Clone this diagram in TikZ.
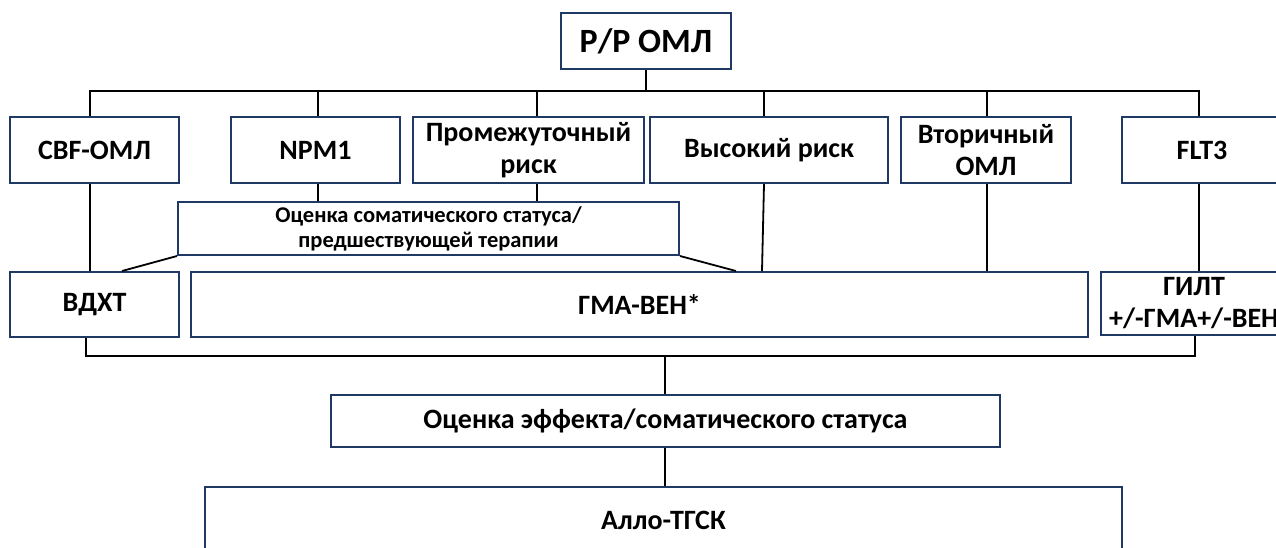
\documentclass[tikz,border=0pt]{standalone}
\usepackage{fontspec}
\setmainfont{Carlito}
\usepackage{tikz}
\definecolor{boxblue}{RGB}{31,56,100}

\begin{document}
\begin{tikzpicture}[x=1pt,y=-1pt,
        box/.style={draw=boxblue, line width=2pt, fill=white, inner sep=0pt,
            align=center, font=\bfseries\fontsize{28}{32}\selectfont},
        link/.style={draw=black, line width=1.8pt}]
        \useasboundingbox (0,0) rectangle (1276,547);
        \clip (0,0) rectangle (1276,547);

        % Top node
        \node[box, minimum width=170, minimum height=56,
            font=\bfseries\fontsize{34}{38}\selectfont] (rr) at (646,41) {Р/Р ОМЛ};

        % First row of groups
        \node[box, minimum width=169, minimum height=66] (cbf) at (94.5,150) {CBF-ОМЛ};
        \node[box, minimum width=169, minimum height=66] (npm) at (315.5,150) {NPM1};
        \node[box, minimum width=231, minimum height=66] (prom) at (528.5,150) {Промежуточный\\риск};
        \node[box, minimum width=238, minimum height=66] (high) at (769,150) {Высокий риск};
        \node[box, minimum width=170, minimum height=66] (sec) at (986,150) {Вторичный\\ОМЛ};
        \node[box, minimum width=160, minimum height=66] (flt) at (1202,150) {FLT3};

        % Assessment before therapy
        \node[box, minimum width=501, minimum height=53,
            font=\bfseries\fontsize{22.5}{25}\selectfont] (soma) at (428.5,228.5)
            {Оценка соматического статуса/\\предшествующей терапии};

        % Second row of therapies
        \node[box, minimum width=169, minimum height=65] (vdxt) at (94.5,304.5) {ВДХТ};
        \node[box, minimum width=897, minimum height=65] (gma) at (639.5,304.5) {ГМА-ВЕН*};
        \node[box, minimum width=186, minimum height=63] (gilt) at (1194,303.5) {ГИЛТ\\+/-ГМА+/-ВЕН};

        % Response assessment and transplant
        \node[box, minimum width=669, minimum height=52] (effect) at (665.5,421) {Оценка эффекта/соматического статуса};
        \node[box, minimum width=917, minimum height=67] (allo) at (663.5,520.5) {Алло-ТГСК};

        % Upper bus
        \coordinate (busL) at (90,91);
        \coordinate (busR) at (1199,91);
        \draw[link] (rr.south) -- (rr.south |- busL);
        \draw[link] (busL |- cbf.north) -- (busL) -- (busR) -- (busR |- flt.north);
        \foreach \x/\n in {318/npm, 537/prom, 764/high, 987/sec}
            \draw[link] (\x,91) -- (\x,0 |- \n.north);

        % Down to the therapies
        \draw[link] (busL |- cbf.south) -- (busL |- vdxt.north);
        \draw[link] (318,0 |- npm.south) -- (318,0 |- soma.north);
        \draw[link] (537,0 |- prom.south) -- (537,0 |- soma.north);
        \draw[link] (soma.south west) -- (122,0 |- vdxt.north);
        \draw[link] (soma.south east) -- (736,0 |- gma.north);
        \draw[link] (764,0 |- high.south) -- (762,0 |- gma.north);
        \draw[link] (987,0 |- sec.south) -- (987,0 |- gma.north);
        \draw[link] (busR |- flt.south) -- (busR |- gilt.north);

        % Lower bus
        \coordinate (lowL) at (86,356);
        \coordinate (lowR) at (1195,356);
        \draw[link] (lowL |- vdxt.south) -- (lowL) -- (lowR) -- (lowR |- gilt.south);
        \draw[link] (665,356) -- (665,0 |- effect.north);
        \draw[link] (665,0 |- effect.south) -- (665,0 |- allo.north);
    \end{tikzpicture}
\end{document}
